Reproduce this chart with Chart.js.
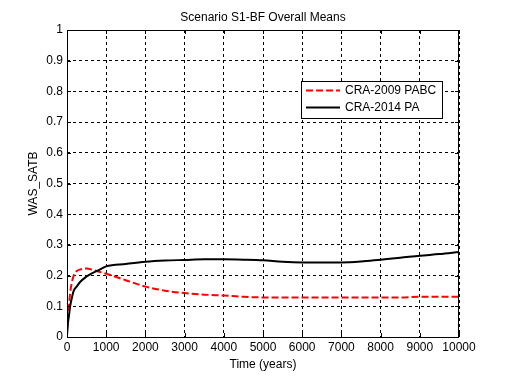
<!DOCTYPE html>
<html>
<head>
<meta charset="utf-8">
<title>Scenario S1-BF Overall Means</title>
<script src="https://cdn.jsdelivr.net/npm/chart.js@4/dist/chart.umd.min.js"></script>
<style>
  html, body { margin: 0; padding: 0; background: #fff; }
  canvas { display: block; }
</style>
</head>
<body>
<canvas id="meansChart" width="508" height="380"></canvas>
<script>
var years = [0, 20, 50, 80, 120, 170, 250, 340, 500, 600, 780, 1000, 1500, 2000, 2500,
             3000, 3500, 4000, 4500, 5000, 5500, 6000, 6500, 7000, 7500, 8000, 8500, 9000, 9500, 10000];
var pabc2009 = [0.02, 0.05, 0.10, 0.143, 0.175, 0.200, 0.215, 0.220, 0.223, 0.221, 0.214, 0.206, 0.185, 0.164, 0.151,
                0.143, 0.138, 0.135, 0.131, 0.129, 0.129, 0.129, 0.129, 0.129, 0.129, 0.129, 0.129, 0.131, 0.131, 0.131];
var pa2014 = [0.005, 0.04, 0.07, 0.10, 0.125, 0.150, 0.165, 0.180, 0.197, 0.205, 0.216, 0.230, 0.238, 0.245, 0.249,
              0.251, 0.253, 0.253, 0.252, 0.250, 0.245, 0.243, 0.243, 0.243, 0.246, 0.252, 0.258, 0.265, 0.270, 0.277];
var xTicks = [0, 1000, 2000, 3000, 4000, 5000, 6000, 7000, 8000, 9000, 10000];
var yTicks = [0, 0.1, 0.2, 0.3, 0.4, 0.5, 0.6, 0.7, 0.8, 0.9, 1];
var chartTitle = 'Scenario S1-BF Overall Means';

var fontFamily = '"Liberation Sans", Arial, sans-serif';
Chart.defaults.font.family = fontFamily;
Chart.defaults.color = '#000';

function toPoints(xs, ys) {
  return xs.map(function(x, i) { return {x: x, y: ys[i]}; });
}

// box round the plot with small inward ticks, like the original figure
var axesBox = {
  id: 'axesBox',
  afterDatasetsDraw: function(chart) {
    var ctx = chart.ctx, a = chart.chartArea;
    var xs = chart.scales.x, ys = chart.scales.y;
    ctx.save();
    ctx.strokeStyle = '#000';
    ctx.lineWidth = 1;
    ctx.setLineDash([]);
    ctx.beginPath();
    xTicks.forEach(function(v) {
      var px = Math.round(xs.getPixelForValue(v)) + 0.5;
      ctx.moveTo(px, a.bottom); ctx.lineTo(px, a.bottom - 4);
      ctx.moveTo(px, a.top); ctx.lineTo(px, a.top + 4);
    });
    yTicks.forEach(function(v) {
      var py = Math.round(ys.getPixelForValue(v)) + 0.5;
      ctx.moveTo(a.left, py); ctx.lineTo(a.left + 4, py);
      ctx.moveTo(a.right, py); ctx.lineTo(a.right - 4, py);
    });
    ctx.stroke();
    ctx.strokeRect(Math.round(a.left) + 0.5, Math.round(a.top) + 0.5,
                   Math.round(a.right - a.left) - 1, Math.round(a.bottom - a.top));
    // title centred over the axes, not the whole canvas
    ctx.fillStyle = '#000';
    ctx.font = '12px ' + fontFamily;
    ctx.textAlign = 'center';
    ctx.textBaseline = 'alphabetic';
    ctx.fillText(chartTitle, (a.left + a.right) / 2, 20.5);
    ctx.restore();
  }
};

// legend inside the plot, top right
var legendBox = {
  id: 'legendBox',
  afterDraw: function(chart) {
    var ctx = chart.ctx, a = chart.chartArea;
    var x = Math.round(a.right) - 158, y = Math.round(a.top) + 51, w = 141, h = 37;
    ctx.save();
    ctx.fillStyle = '#fff';
    ctx.fillRect(x, y, w, h);
    ctx.strokeStyle = '#000';
    ctx.lineWidth = 1;
    ctx.strokeRect(x + 0.5, y + 0.5, w, h);
    chart.data.datasets.forEach(function(ds, i) {
      var ly = y + 9.5 + i * 17;
      ctx.beginPath();
      ctx.setLineDash(ds.borderDash || []);
      ctx.strokeStyle = ds.borderColor;
      ctx.lineWidth = ds.borderWidth;
      ctx.moveTo(x + 5, ly);
      ctx.lineTo(x + 39, ly);
      ctx.stroke();
      ctx.setLineDash([]);
      ctx.fillStyle = '#000';
      ctx.font = '12px ' + fontFamily;
      ctx.textBaseline = 'middle';
      ctx.fillText(ds.label, x + 44, ly + 0.5);
    });
    ctx.restore();
  }
};

var ctx = document.getElementById('meansChart').getContext('2d');
var chart = new Chart(ctx, {
  type: 'line',
  data: {
    datasets: [{
      label: 'CRA-2009 PABC',
      data: toPoints(years, pabc2009),
      borderColor: 'rgb(255,0,0)',
      borderWidth: 2,
      borderDash: [7, 3],
      pointRadius: 0,
      cubicInterpolationMode: 'monotone',
      fill: false,
      order: 1
    }, {
      label: 'CRA-2014 PA',
      data: toPoints(years, pa2014),
      borderColor: 'rgb(0,0,0)',
      borderWidth: 2,
      pointRadius: 0,
      cubicInterpolationMode: 'monotone',
      fill: false,
      order: 0
    }]
  },
  options: {
    responsive: false,
    animation: false,
    layout: { padding: { left: 0, right: 49, top: 30, bottom: 0 } },
    scales: {
      x: {
        type: 'linear',
        min: 0,
        max: 10000,
        afterBuildTicks: function(s) { s.ticks = xTicks.map(function(v) { return {value: v}; }); },
        afterFit: function(s) { s.height = 43; },
        grid: { color: '#000', lineWidth: 1, drawTicks: false },
        border: { display: false, dash: [3, 3] },
        ticks: {
          color: '#000', padding: 3, autoSkip: false, maxRotation: 0,
          font: { size: 12 },
          callback: function(v) { return String(v); }
        },
        title: {
          display: true, text: 'Time (years)', color: '#000',
          font: { size: 12 }, padding: { top: 0, bottom: 8 }
        }
      },
      y: {
        type: 'linear',
        min: 0,
        max: 1,
        afterBuildTicks: function(s) { s.ticks = yTicks.map(function(v) { return {value: v}; }); },
        afterFit: function(s) { s.width = 67; },
        grid: { color: '#000', lineWidth: 1, drawTicks: false },
        border: { display: false, dash: [3, 3] },
        ticks: {
          color: '#000', padding: 4,
          font: { size: 12 },
          callback: function(v) { return String(v); }
        },
        title: {
          display: true, text: 'WAS_SATB', color: '#000',
          font: { size: 12 }, padding: { top: 26, bottom: 0 }
        }
      }
    },
    plugins: {
      legend: { display: false },
      tooltip: { enabled: false },
      title: { display: false }
    }
  },
  plugins: [axesBox, legendBox]
});
</script>
</body>
</html>
